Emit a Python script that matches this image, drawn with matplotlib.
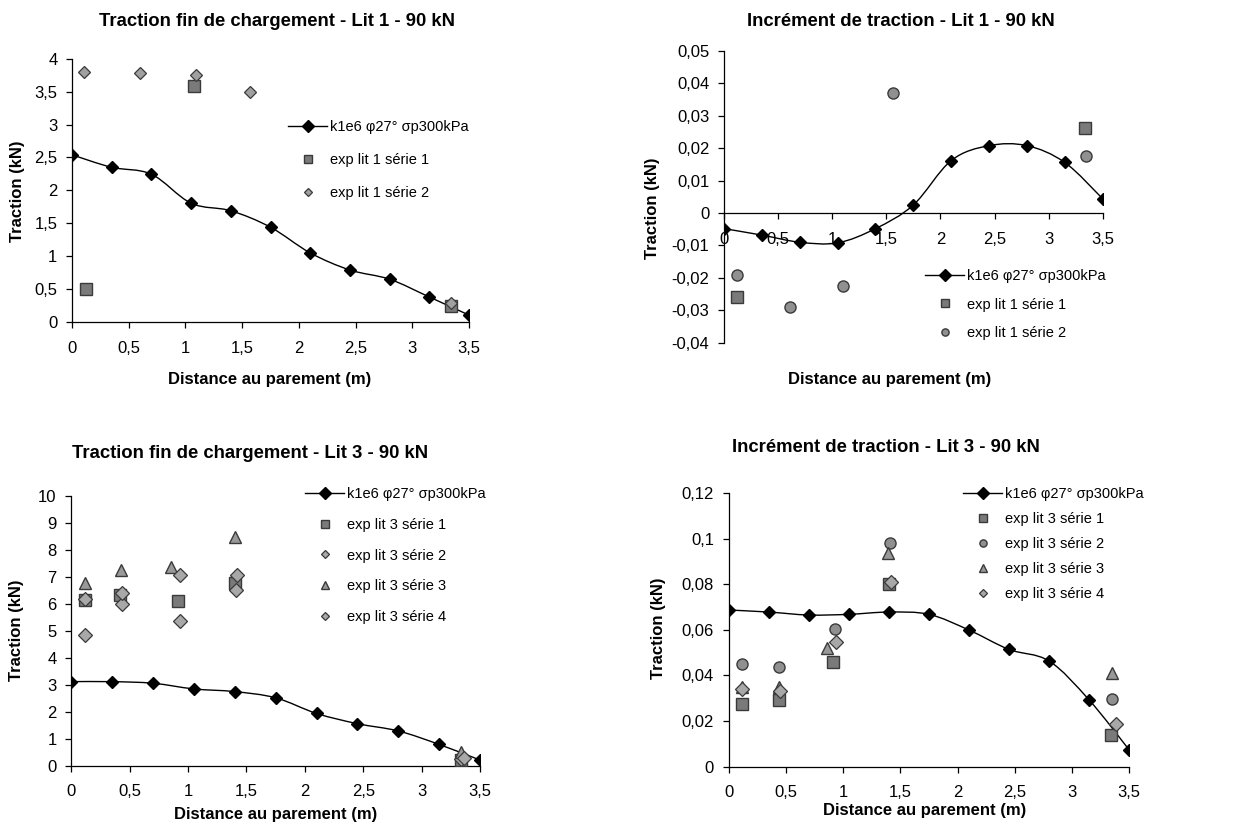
import numpy as np
import matplotlib
matplotlib.use('Agg')
import matplotlib.pyplot as plt
from matplotlib.path import Path
from matplotlib.patches import PathPatch
from matplotlib.lines import Line2D
from matplotlib.ticker import FuncFormatter, MultipleLocator

plt.rcParams['font.family'] = ['Liberation Sans', 'DejaVu Sans']

# ---------------- data ----------------
x_model = [0.0, 0.35, 0.70, 1.05, 1.40, 1.75, 2.10, 2.45, 2.80, 3.15, 3.50]
model_label = 'k1e6 φ27° σp300kPa'

# Lit 1 - traction fin de chargement
lit1_T_model = [2.54, 2.35, 2.245, 1.805, 1.69, 1.44, 1.05, 0.79, 0.65, 0.38, 0.105]
lit1_T_s1_x = [0.12, 1.075, 3.34]
lit1_T_s1_y = [0.50, 3.585, 0.25]
lit1_T_s2_x = [0.11, 0.60, 1.09, 1.57, 3.34]
lit1_T_s2_y = [3.80, 3.79, 3.75, 3.50, 0.29]

# Lit 1 - increment de traction
lit1_dT_model = [-0.0048, -0.0068, -0.0090, -0.0092, -0.0048, 0.0025,
                 0.0162, 0.0208, 0.0208, 0.0156, 0.0044]
lit1_dT_s1_x = [0.117, 3.34]
lit1_dT_s1_y = [-0.0258, 0.0263]
lit1_dT_s2_x = [0.12, 0.61, 1.10, 1.565, 3.345]
lit1_dT_s2_y = [-0.0192, -0.0291, -0.0225, 0.0371, 0.0177]

# Lit 3 - traction fin de chargement
lit3_T_model = [3.12, 3.12, 3.06, 2.85, 2.75, 2.52, 1.94, 1.56, 1.29, 0.79, 0.21]
lit3_T_s1_x = [0.117, 0.417, 0.916, 1.40, 3.34]
lit3_T_s1_y = [6.15, 6.34, 6.11, 6.77, 0.21]
lit3_T_s2_x = [0.117, 0.43, 0.93, 1.41, 3.34]
lit3_T_s2_y = [4.85, 5.99, 5.37, 6.52, 0.24]
lit3_T_s3_x = [0.12, 0.425, 0.855, 1.40, 3.34]
lit3_T_s3_y = [6.77, 7.26, 7.39, 8.48, 0.52]
lit3_T_s4_x = [0.117, 0.43, 0.93, 1.42, 3.36]
lit3_T_s4_y = [6.20, 6.40, 7.07, 7.07, 0.27]

# Lit 3 - increment de traction
lit3_dT_model = [0.0687, 0.0678, 0.0665, 0.0668, 0.0678, 0.0668,
                 0.0599, 0.0514, 0.0463, 0.0292, 0.0073]
lit3_dT_s1_x = [0.12, 0.44, 0.914, 1.40, 3.337]
lit3_dT_s1_y = [0.0273, 0.0292, 0.0460, 0.0800, 0.0137]
lit3_dT_s2_x = [0.12, 0.44, 0.93, 1.41, 3.35]
lit3_dT_s2_y = [0.0449, 0.0438, 0.0602, 0.0980, 0.0295]
lit3_dT_s3_x = [0.12, 0.44, 0.86, 1.395, 3.345]
lit3_dT_s3_y = [0.0350, 0.0350, 0.0520, 0.0935, 0.0410]
lit3_dT_s4_x = [0.12, 0.445, 0.94, 1.42, 3.38]
lit3_dT_s4_y = [0.0340, 0.0330, 0.0548, 0.0810, 0.0187]

x_ticks = [0, 0.5, 1, 1.5, 2, 2.5, 3, 3.5]

# ---------------- figure ----------------
W, H = 1235, 827
fig = plt.figure(figsize=(W / 100, H / 100), dpi=100)


def px_axes(left, top, right, bottom):
    return fig.add_axes([left / W, 1 - bottom / H, (right - left) / W, (bottom - top) / H])


def comma_fmt(v, pos):
    s = f"{round(v, 6):g}"
    return s.replace('.', ',')


def smooth_path(x, y):
    pts = np.column_stack([x, y]).astype(float)
    n = len(pts)
    verts = [pts[0]]
    codes = [Path.MOVETO]
    for i in range(n - 1):
        p0 = pts[max(i - 1, 0)]
        p1 = pts[i]
        p2 = pts[i + 1]
        p3 = pts[min(i + 2, n - 1)]
        c1 = p1 + (p2 - p0) / 6.0
        c2 = p2 - (p3 - p1) / 6.0
        verts += [c1, c2, p2]
        codes += [Path.CURVE4] * 3
    return Path(verts, codes)


EDGE = '#3a3a3a'
styles = {
    's1': dict(marker='s', ms=8, mfc='#7a7a7a', mec=EDGE, mew=1.0, ls='none'),
    's2D': dict(marker='D', ms=6, mfc='#a0a0a0', mec=EDGE, mew=0.9, ls='none'),
    's2o': dict(marker='o', ms=8, mfc='#909090', mec=EDGE, mew=1.0, ls='none'),
    's3': dict(marker='^', ms=9, mfc='#999999', mec=EDGE, mew=1.0, ls='none'),
    's4': dict(marker='D', ms=7, mfc='#a8a8a8', mec=EDGE, mew=0.9, ls='none'),
}


def setup(ax, ylim, ystep, title, title_xy, xlabel_xy, ylabel_xy, zero_axis=False):
    ax.set_xlim(0, 3.5)
    ax.set_ylim(*ylim)
    ax.set_xticks(x_ticks)
    ax.yaxis.set_major_locator(MultipleLocator(ystep))
    ax.xaxis.set_major_formatter(FuncFormatter(comma_fmt))
    ax.yaxis.set_major_formatter(FuncFormatter(comma_fmt))
    for s in ('top', 'right'):
        ax.spines[s].set_visible(False)
    for s in ('left', 'bottom'):
        ax.spines[s].set_linewidth(0.9)
        ax.spines[s].set_color('black')
    if zero_axis:
        ax.spines['bottom'].set_position(('data', 0))
    ax.tick_params(axis='x', direction='out', length=4.5, width=0.9, pad=9,
                   labelsize=12, colors='black')
    ax.tick_params(axis='y', direction='out', length=4.5, width=0.9, pad=6,
                   labelsize=12, colors='black')
    ax.patch.set_alpha(0)
    fig.text(title_xy[0] / W, 1 - title_xy[1] / H, title, ha='center', va='center',
             fontsize=13.3, fontweight='bold')
    ax.set_xlabel('Distance au parement (m)', fontsize=12, fontweight='bold')
    ax.set_ylabel('Traction (kN)', fontsize=12, fontweight='bold')
    inv = ax.transAxes.inverted()
    xl = inv.transform(fig.transFigure.transform((xlabel_xy[0] / W, 1 - xlabel_xy[1] / H)))
    yl = inv.transform(fig.transFigure.transform((ylabel_xy[0] / W, 1 - ylabel_xy[1] / H)))
    ax.xaxis.set_label_coords(xl[0], xl[1])
    ax.xaxis.label.set_va('center')
    ax.yaxis.set_label_coords(yl[0], yl[1])
    ax.yaxis.label.set_va('center')


def draw_model(ax, y):
    ax.add_patch(PathPatch(smooth_path(x_model, y), fill=False, edgecolor='black',
                           lw=1.0, transform=ax.transData, zorder=2))
    ax.plot(x_model, y, ls='none', marker='D', ms=6, mfc='black', mec='black', zorder=4)


def legend(ax, handles, labels, top_left_px, spacing):
    ax.legend(handles, labels, loc='upper left',
              bbox_to_anchor=(top_left_px[0] / W, 1 - top_left_px[1] / H),
              bbox_transform=fig.transFigure, frameon=False, fontsize=10.5,
              handlelength=2.7, handletextpad=0.2, labelspacing=spacing,
              borderpad=0, borderaxespad=0, markerscale=0.65)


model_handle = Line2D([], [], color='black', lw=1.0, marker='D', ms=9,
                      mfc='black', mec='black')

# ---- Panel 1 ----
ax1 = px_axes(72, 58.7, 469, 322)
setup(ax1, (0, 4), 0.5, 'Traction fin de chargement - Lit 1 - 90 kN',
      (277, 22), (270, 380), (17, 191))
draw_model(ax1, lit1_T_model)
h1, = ax1.plot(lit1_T_s1_x, lit1_T_s1_y, zorder=3, **styles['s1'])
h2, = ax1.plot(lit1_T_s2_x, lit1_T_s2_y, zorder=3, **styles['s2D'])
legend(ax1, [model_handle, h1, h2], [model_label, 'exp lit 1 série 1', 'exp lit 1 série 2'],
       (288, 120), 1.3)

# ---- Panel 2 ----
ax2 = px_axes(724, 51, 1102.7, 342.7)
setup(ax2, (-0.04, 0.05), 0.01, 'Incrément de traction - Lit 1 - 90 kN',
      (901, 22), (890, 380), (653, 208), zero_axis=True)
draw_model(ax2, lit1_dT_model)
h1, = ax2.plot(lit1_dT_s1_x, lit1_dT_s1_y, zorder=3, **styles['s1'])
h2, = ax2.plot(lit1_dT_s2_x, lit1_dT_s2_y, zorder=3, **styles['s2o'])
legend(ax2, [model_handle, h1, h2], [model_label, 'exp lit 1 série 1', 'exp lit 1 série 2'],
       (925, 269), 1.0)

# ---- Panel 3 ----
ax3 = px_axes(71.3, 496.3, 480, 765.7)
setup(ax3, (0, 10), 1, 'Traction fin de chargement - Lit 3 - 90 kN',
      (250, 453), (276, 815), (17, 630))
draw_model(ax3, lit3_T_model)
h1, = ax3.plot(lit3_T_s1_x, lit3_T_s1_y, zorder=3, **styles['s1'])
h2, = ax3.plot(lit3_T_s2_x, lit3_T_s2_y, zorder=3, **styles['s4'])
h3, = ax3.plot(lit3_T_s3_x, lit3_T_s3_y, zorder=3, **styles['s3'])
h4, = ax3.plot(lit3_T_s4_x, lit3_T_s4_y, zorder=3, **styles['s4'])
legend(ax3, [model_handle, h1, h2, h3, h4],
       [model_label, 'exp lit 3 série 1', 'exp lit 3 série 2', 'exp lit 3 série 3',
        'exp lit 3 série 4'], (305, 487), 1.15)

# ---- Panel 4 ----
ax4 = px_axes(728.7, 493, 1129.3, 766.7)
setup(ax4, (0, 0.12), 0.02, 'Incrément de traction - Lit 3 - 90 kN',
      (886, 448), (925, 810), (658, 628))
draw_model(ax4, lit3_dT_model)
h1, = ax4.plot(lit3_dT_s1_x, lit3_dT_s1_y, zorder=3, **styles['s1'])
h2, = ax4.plot(lit3_dT_s2_x, lit3_dT_s2_y, zorder=3, **styles['s2o'])
h3, = ax4.plot(lit3_dT_s3_x, lit3_dT_s3_y, zorder=3, **styles['s3'])
h4, = ax4.plot(lit3_dT_s4_x, lit3_dT_s4_y, zorder=3, **styles['s4'])
legend(ax4, [model_handle, h1, h2, h3, h4],
       [model_label, 'exp lit 3 série 1', 'exp lit 3 série 2', 'exp lit 3 série 3',
        'exp lit 3 série 4'], (963, 487), 0.75)

fig.savefig('out.png', dpi=100, facecolor='white')
